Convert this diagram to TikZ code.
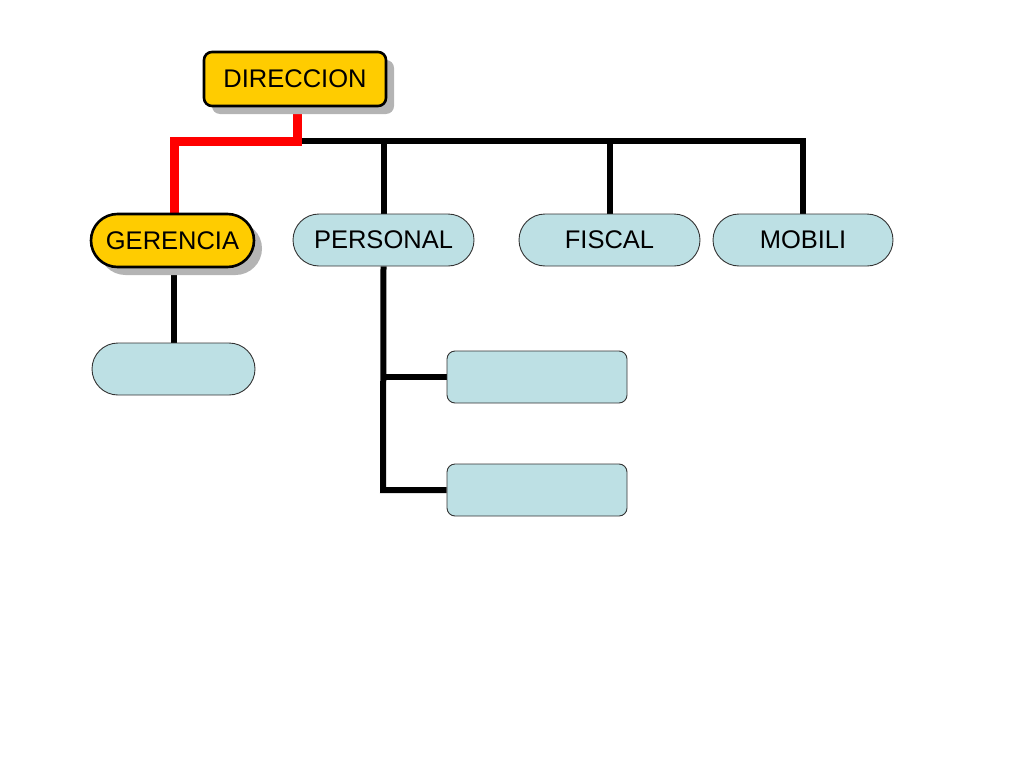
\documentclass[tikz,border=0pt]{standalone}
\usepackage{fontspec}
\setmainfont{Liberation Sans}
\usetikzlibrary{shapes.misc,shadows,backgrounds}
\definecolor{boxyellow}{HTML}{FFCC00}
\definecolor{boxblue}{HTML}{BDE0E4}
\definecolor{shadowgray}{HTML}{B4B4B4}
\begin{document}
\begin{tikzpicture}[x=1pt,y=-1pt,
  lbl/.style={font=\fontsize{25.5}{30}\selectfont},
  hot/.style={fill=boxyellow,draw=black,line width=2.6pt,
     drop shadow={shadow xshift=8pt,shadow yshift=-8pt,fill=shadowgray,opacity=1}},
  cool/.style={fill=boxblue,draw=black!80,line width=0.9pt},
  capsule/.style={rounded rectangle,minimum width=#1,minimum height=52pt,inner sep=0pt},
  rbox/.style={rectangle,rounded corners=8pt,minimum width=#1,minimum height=52pt,inner sep=0pt},
  blk/.style={line width=6pt,draw=black},
  redl/.style={line width=9pt,draw=red}]
\useasboundingbox (0,0) rectangle (1024,768);
\coordinate (hr) at (297,141);
\coordinate (hl) at (174,141);
\coordinate (hend) at (803,141);
\coordinate (pA) at (383,377);
\coordinate (pB) at (383,490);
% nodes
\node[hot,rbox=182pt,minimum height=54pt,lbl] (dir) at (295,79) {DIRECCION};
\node[hot,capsule=163pt,minimum height=53pt,lbl] (ger) at (172.5,240.5) {GERENCIA};
\node[cool,capsule=181pt,lbl] (per) at (383.5,240) {PERSONAL};
\node[cool,capsule=181pt,lbl] (fis) at (609.5,240) {FISCAL};
\node[cool,capsule=180pt,lbl] (mob) at (803,240) {MOBILI};
\node[cool,capsule=163pt] (g1) at (173.5,369) {};
\node[cool,rbox=180pt] (p1) at (537,377) {};
\node[cool,rbox=180pt] (p2) at (537,490) {};
% connectors behind nodes
\begin{pgfonlayer}{background}
\draw[blk] (hr) -- (hend) -- (mob.north);
\draw[blk] (per.north |- hr) -- (per.north);
\draw[blk] (fis.north |- hr) -- (fis.north);
\draw[redl] (dir.south -| hr) -- (hr) -- (hl) -- (ger.north -| hl);
\draw[blk] (ger.south -| hl) -- (g1.north -| hl);
\draw[blk] (per.south) -- (pB) -- (p2.west);
\draw[blk] (pA) -- (p1.west);
\end{pgfonlayer}
\end{tikzpicture}
\end{document}
